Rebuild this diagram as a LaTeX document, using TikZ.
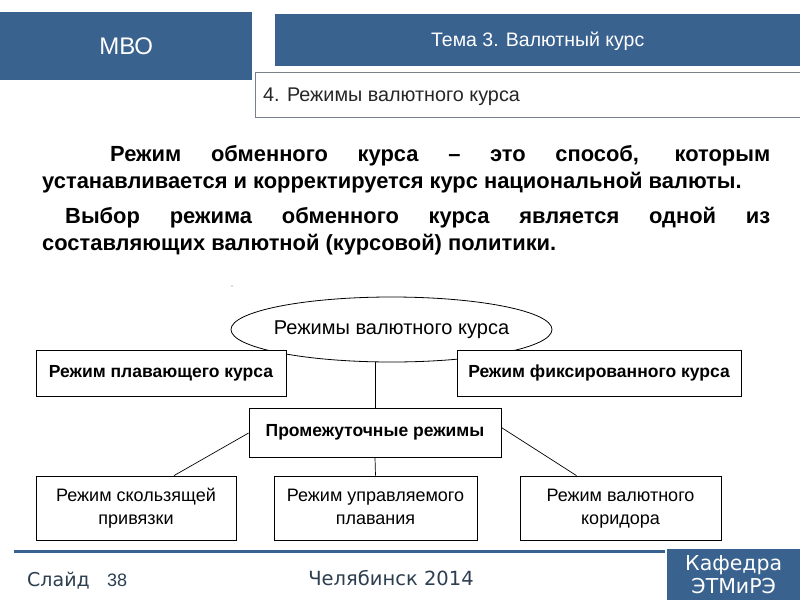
\documentclass[tikz,border=0pt]{standalone}
\usepackage{fontspec}
\setmainfont{Liberation Sans}
\newfontfamily\dv{DejaVu Sans}
\usetikzlibrary{shapes.geometric}
\definecolor{slideblue}{RGB}{58,98,143}
\definecolor{foot}{RGB}{45,62,80}
\definecolor{subline}{RGB}{120,130,140}
\begin{document}
\begin{tikzpicture}[x=1pt,y=-1pt,
  hdr/.style={fill=slideblue,text=white,inner sep=0pt,anchor=north west},
  rbox/.style={draw=black,line width=0.8pt,fill=white,inner sep=2pt,align=center},
  bbox/.style={rbox,font=\bfseries\fontsize{17.5}{21}\selectfont},
  nbox/.style={rbox,font=\fontsize{18}{23}\selectfont},
  para/.style={anchor=north west,inner sep=0pt,text width=728pt,align=justify,font=\bfseries\fontsize{21.9}{27}\selectfont},
  conn/.style={draw=black,line width=0.7pt}]
\useasboundingbox (0,0) rectangle (800,600);
\fill[white] (0,0) rectangle (800,600);
% header
\node[hdr,minimum width=252pt,minimum height=68pt,text depth=0pt,font=\fontsize{24}{28}\selectfont] (mvo) at (0,12) {МВО};
\node[hdr,minimum width=525pt,minimum height=52pt,text height=13pt,text depth=0pt,font=\fontsize{19.5}{22}\selectfont] (tema) at (275,14) {Тема 3. Валютный курс};
\node[draw=subline,line width=0.6pt,anchor=north west,minimum width=545pt,minimum height=45pt,inner sep=0pt] (sub) at (255,72) {};
\node[anchor=west,inner sep=0pt,text=black!85,font=\fontsize{19.8}{22}\selectfont] (subt) at (263,97) {4. Режимы валютного курса};
% paragraphs
\node[para] (p1) at (42,145)
{\hspace*{68pt}Режим обменного курса – это способ, которым\linebreak устанавливается и корректируется курс национальной валюты.};
\node[para] (p2) at (42,207)
{\hspace*{23pt}Выбор режима обменного курса является одной из\linebreak составляющих валютной (курсовой) политики.};
% diagram
\fill[black!60] (232,286) circle (0.6);
\node[draw=black,line width=0.8pt,ellipse,minimum width=321pt,minimum height=65pt,inner sep=0pt] (ell) at (391.5,329.5) {};
\node[inner sep=0pt,font=\fontsize{20}{24}\selectfont] (ellt) at (ell.center) {Режимы валютного курса};
\node[bbox,minimum width=250pt,minimum height=46pt] (float) at (161,373) {Режим плавающего курса};
\node[bbox,minimum width=284pt,minimum height=46pt] (fixed) at (599,373) {Режим фиксированного курса};
\node[bbox,minimum width=252pt,minimum height=49pt] (inter) at (375,432.5) {Промежуточные режимы};
\node[nbox,minimum width=200pt,minimum height=64pt] (b1) at (136,508) {\strut Режим скользящей\\\strut привязки};
\node[nbox,minimum width=203pt,minimum height=64pt] (b2) at (375.5,508) {\strut Режим управляемого\\\strut плавания};
\node[nbox,minimum width=201pt,minimum height=64pt] (b3) at (620.5,508) {\strut Режим валютного\\\strut коридора};
\coordinate (e1) at (inter.north |- ell.south);
\draw[conn] (e1) -- (inter.north);
\draw[conn] ([yshift=-0.5pt]inter.west) -- ([xshift=38pt]b1.north);
\draw[conn] ([yshift=5pt]inter.east) -- ([xshift=-44pt]b3.north);
\draw[conn] (inter.south) -- (b2.north);
% footer
\coordinate (fl1) at (14,551);
\coordinate (fl2) at (665,551);
\draw[slideblue,line width=3pt] (fl1) -- (fl2);
\node[hdr,minimum width=133pt,minimum height=51pt,align=center,font=\dv\fontsize{20.5}{23}\selectfont] (kaf) at (667,549) {Кафедра\\ЭТМиРЭ};
\node[anchor=base west,inner sep=0pt,text=foot,font=\dv\fontsize{19}{20}\selectfont] (slide) at (27,586) {Слайд};
\node[anchor=base west,inner sep=0pt,text=foot,font=\fontsize{18}{20}\selectfont] (num) at (107,586) {38};
\node[inner sep=0pt,text=foot,font=\dv\fontsize{19.5}{20}\selectfont] (city) at (391,578) {Челябинск 2014};
\end{tikzpicture}
\end{document}
